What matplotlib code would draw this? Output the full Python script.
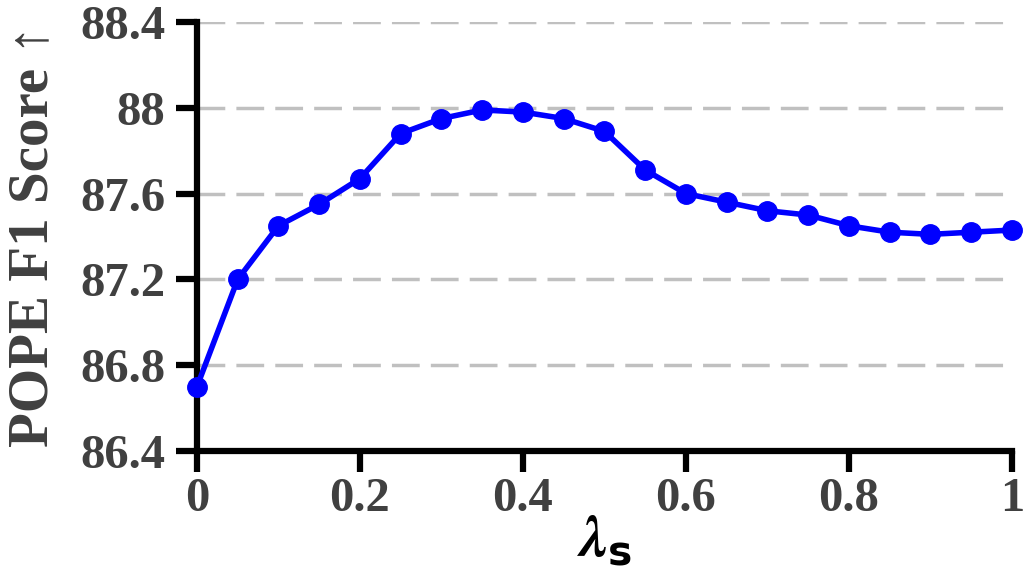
import matplotlib
matplotlib.use("Agg")
import matplotlib.pyplot as plt

# data
lambda_s = [0.0, 0.05, 0.1, 0.15, 0.2, 0.25, 0.3, 0.35, 0.4, 0.45, 0.5,
            0.55, 0.6, 0.65, 0.7, 0.75, 0.8, 0.85, 0.9, 0.95, 1.0]
f1_score = [86.70, 87.20, 87.45, 87.55, 87.67, 87.88, 87.95, 87.99, 87.98, 87.95, 87.89,
            87.71, 87.60, 87.56, 87.52, 87.50, 87.45, 87.42, 87.41, 87.42, 87.43]
x_ticks = [0, 0.2, 0.4, 0.6, 0.8, 1.0]
x_tick_labels = ["0", "0.2", "0.4", "0.6", "0.8", "1"]
y_ticks = [86.4, 86.8, 87.2, 87.6, 88.0, 88.4]
y_tick_labels = ["86.4", "86.8", "87.2", "87.6", "88", "88.4"]

plt.rcParams['font.family'] = ['Liberation Serif', 'DejaVu Serif']
plt.rcParams['font.weight'] = 'bold'
plt.rcParams['mathtext.fontset'] = 'custom'
plt.rcParams['mathtext.bfit'] = 'STIXGeneral:bold:italic'
plt.rcParams['mathtext.bf'] = 'DejaVu Sans:bold'
text_gray = '#404040'

fig = plt.figure(figsize=(10.28, 5.7), dpi=100)
ax = fig.add_axes([0.1916, 0.2088, 0.7928, 0.7526])

ax.plot(lambda_s, f1_score, color='#0000ff', lw=4, marker='o', ms=14,
        clip_on=False, zorder=3)

ax.set_xlim(0, 1.0)
ax.set_ylim(86.4, 88.4)
ax.set_xticks(x_ticks)
ax.set_xticklabels(x_tick_labels)
ax.set_yticks(y_ticks)
ax.set_yticklabels(y_tick_labels)

# grid
ax.yaxis.grid(True, color='#c0c0c0', lw=2.5, dashes=(8, 3.2))
ax.set_axisbelow(True)

for side in ['top', 'right']:
    ax.spines[side].set_visible(False)
for side in ['left', 'bottom']:
    ax.spines[side].set_linewidth(4.5)
    ax.spines[side].set_color('black')

ax.tick_params(axis='both', direction='out', length=15, width=4.5,
               colors='black', labelcolor=text_gray, labelsize=35)
ax.tick_params(axis='y', pad=8)
ax.tick_params(axis='x', pad=4)
for lab in ax.get_xticklabels() + ax.get_yticklabels():
    lab.set_fontweight('bold')

ax.set_ylabel('POPE F1 Score ↑', fontsize=41, fontweight='bold', color=text_gray, labelpad=15)
ax.set_xlabel(r'$\mathbfit{\lambda}_{\mathbf{s}}$', fontsize=42, color='black', labelpad=-6)

fig.savefig('out.png', dpi=100)
